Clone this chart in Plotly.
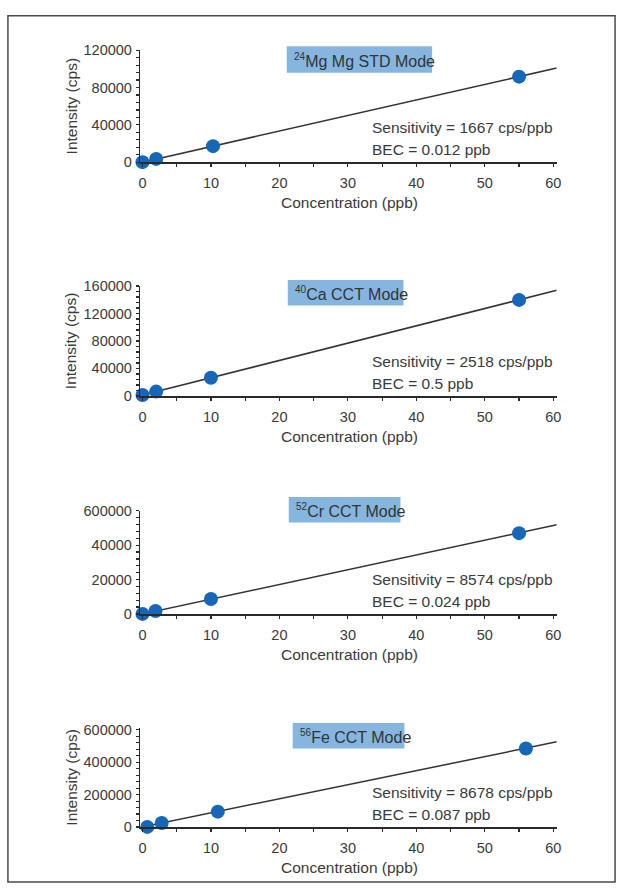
import plotly.graph_objects as go

W, H = 625, 892

# ---------------- data ----------------
TITLE_SUP = ["24", "40", "52", "56"]
TITLE_TXT = ["Mg Mg STD Mode", "Ca CCT Mode", "Cr CCT Mode", "Fe CCT Mode"]
SENSITIVITY = [1667, 2518, 8574, 8678]          # cps/ppb
BEC = ["0.012", "0.5", "0.024", "0.087"]        # ppb

MG_CONC = [0, 2, 10.3, 55]
MG_INT = [20, 3500, 17200, 91700]
CA_CONC = [0, 2, 10, 55]
CA_INT = [1300, 6300, 26500, 139700]
CR_CONC = [0, 1.9, 10, 55]
CR_INT = [200, 17500, 87000, 470000]
FE_CONC = [0.7, 2.8, 11, 56]
FE_INT = [800, 25000, 95000, 485000]

LINE_CONC = [0, 60.5]

Y_TICKVALS = [[0, 40000, 80000, 120000],
              [0, 40000, 80000, 120000, 160000],
              [0, 200000, 400000, 600000],
              [0, 200000, 400000, 600000]]
Y_TICKTEXT = [["0", "40000", "80000", "120000"],
              ["0", "40000", "80000", "120000", "160000"],
              ["0", "20000", "40000", "600000"],
              ["0", "200000", "400000", "600000"]]
Y_RANGES = [[0, 120000], [0, 160000], [0, 600000], [0, 612000]]
Y_MINOR = [8000, 8000, 40000, 40000]
SHOW_YTITLE = [True, True, False, True]
X_TICKS = [0, 10, 20, 30, 40, 50, 60]

# ---------------- layout helpers (pixel -> paper) ----------------
def px(x):
    return x / W

def py(y):
    return 1 - y / H

PANELS = [(43, 157), (283, 395), (512, 617), (733, 834)]   # (top, axis) pixel rows
BOXES = [(288, 435, 39, 66), (289, 406, 277, 303), (290, 403, 498, 524), (294, 407, 728, 754)]
X_DOM = [px(140), px(561)]

FONT = "Liberation Sans, Arial, sans-serif"
TXT = "#3a3a3a"
AX = "#2a2a2a"
BLUE = "#1767b8"
BOXBLUE = "#86b6e0"

series = [(MG_CONC, MG_INT), (CA_CONC, CA_INT), (CR_CONC, CR_INT), (FE_CONC, FE_INT)]

fig = go.Figure()
shapes = []
annotations = []

for i, (cx, cy) in enumerate(series):
    n = "" if i == 0 else str(i + 1)
    xa, ya = "x" + n, "y" + n
    s = SENSITIVITY[i]
    b = float(BEC[i])
    line_y = [s * (c + b) for c in LINE_CONC]
    fig.add_trace(go.Scatter(x=LINE_CONC, y=line_y, mode="lines",
                             line=dict(color="#333333", width=1.5),
                             xaxis=xa, yaxis=ya, showlegend=False, hoverinfo="skip",
                             cliponaxis=False))
    fig.add_trace(go.Scatter(x=cx, y=cy, mode="markers",
                             marker=dict(color=BLUE, size=14, line=dict(width=0)),
                             xaxis=xa, yaxis=ya, showlegend=False, cliponaxis=False))

    top, axis = PANELS[i]
    fig.layout["xaxis" + n] = dict(
        domain=X_DOM, anchor=ya, range=[-0.3, 60.5],
        tickvals=X_TICKS, ticks="outside", ticklen=3, tickwidth=1.2, tickcolor=AX,
        minor=dict(dtick=5, tick0=0, ticks="outside", ticklen=3, tickwidth=1.2, tickcolor=AX),
        showline=True, linecolor=AX, linewidth=1.6, showgrid=False, zeroline=False,
        tickfont=dict(family=FONT, size=14.5, color=TXT), ticklabelstandoff=4,
        fixedrange=True)
    fig.layout["yaxis" + n] = dict(
        domain=[py(axis), py(top)], anchor=xa, range=Y_RANGES[i],
        tickvals=Y_TICKVALS[i], ticktext=Y_TICKTEXT[i],
        ticks="outside", ticklen=3, tickwidth=1.2, tickcolor=AX,
        minor=dict(dtick=Y_MINOR[i], tick0=0, ticks="outside", ticklen=3, tickwidth=1.2, tickcolor=AX),
        showline=True, linecolor=AX, linewidth=1.6, showgrid=False, zeroline=False,
        tickfont=dict(family=FONT, size=14.5, color=TXT), ticklabelstandoff=1,
        fixedrange=True)

    # title box
    x0, x1, y0, y1 = BOXES[i]
    shapes.append(dict(type="rect", xref="paper", yref="paper",
                       x0=px(x0), x1=px(x1), y0=py(y1), y1=py(y0),
                       fillcolor=BOXBLUE, line=dict(width=0), layer="below"))
    annotations.append(dict(xref="paper", yref="paper", x=px(x0 + 5), y=py((y0 + y1) / 2 + 1),
                            xanchor="left", yanchor="middle", showarrow=False,
                            text="<sup><span style='font-size:10px'>" + TITLE_SUP[i] +
                                 "</span></sup>" + TITLE_TXT[i],
                            font=dict(family=FONT, size=16, color="#333333")))
    # sensitivity / BEC text
    annotations.append(dict(xref="paper", yref="paper", x=px(372), y=py(axis - 35),
                            xanchor="left", yanchor="middle", showarrow=False,
                            text="Sensitivity = %d cps/ppb" % s,
                            font=dict(family=FONT, size=15.5, color=TXT)))
    annotations.append(dict(xref="paper", yref="paper", x=px(372), y=py(axis - 13),
                            xanchor="left", yanchor="middle", showarrow=False,
                            text="BEC = %s ppb" % BEC[i],
                            font=dict(family=FONT, size=15.5, color=TXT)))
    # axis titles
    annotations.append(dict(xref="paper", yref="paper", x=px(351), y=py(axis + 41),
                            xanchor="center", yanchor="middle", showarrow=False,
                            text="Concentration (ppb)",
                            font=dict(family=FONT, size=15.5, color=TXT)))
    if SHOW_YTITLE[i]:
        annotations.append(dict(xref="paper", yref="paper", x=px(70), y=py((top + axis) / 2),
                                xanchor="center", yanchor="middle", showarrow=False,
                                textangle=-90, text="Intensity (cps)",
                                font=dict(family=FONT, size=15.5, color=TXT)))

# outer frame
shapes.append(dict(type="rect", xref="paper", yref="paper",
                   x0=px(6), x1=px(620), y0=py(890), y1=py(8),
                   line=dict(color="#4a4a4a", width=1.5), fillcolor="rgba(0,0,0,0)"))

fig.update_layout(width=W, height=H, margin=dict(l=0, r=0, t=0, b=0),
                  paper_bgcolor="white", plot_bgcolor="rgba(0,0,0,0)",
                  shapes=shapes, annotations=annotations, showlegend=False)

fig.write_html("out.html", config={"displayModeBar": False, "staticPlot": True},
               post_script="document.body.style.margin='0';document.body.style.padding='0';"
                           "document.documentElement.style.overflow='hidden';")
